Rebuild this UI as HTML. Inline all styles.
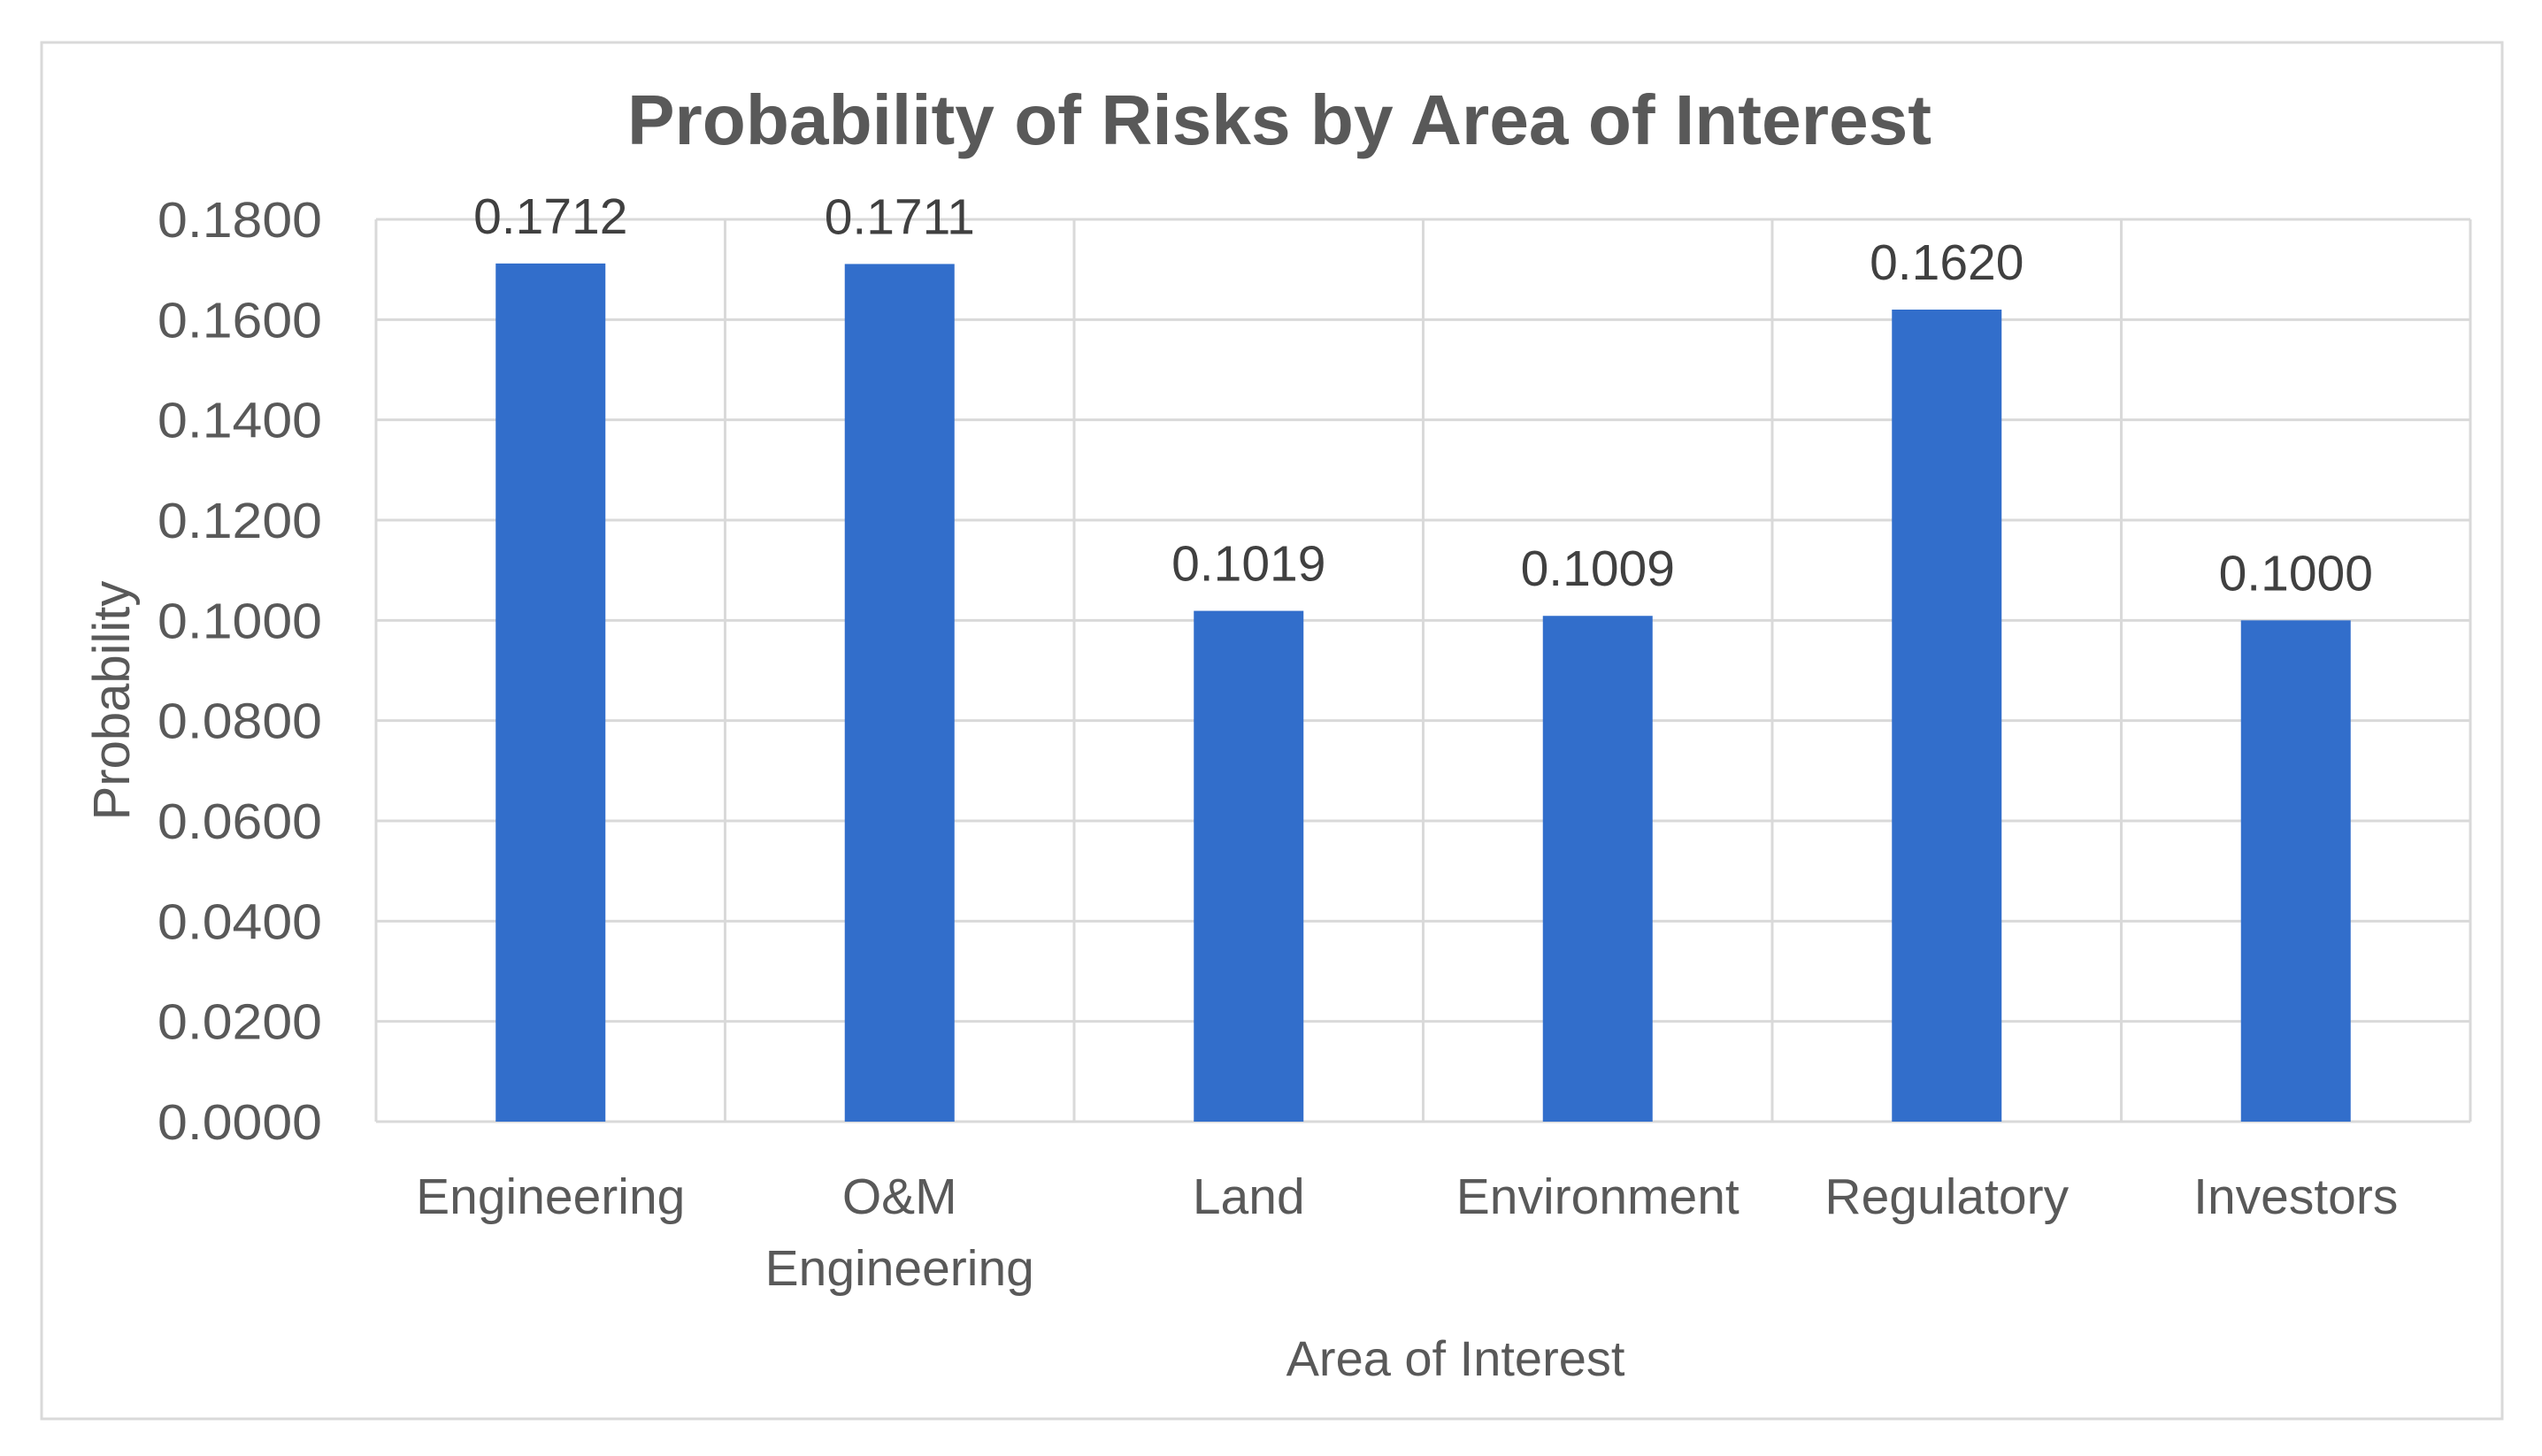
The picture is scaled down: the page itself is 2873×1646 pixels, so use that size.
<!DOCTYPE html>
<html><head><meta charset="utf-8"><style>
html,body{margin:0;padding:0;background:#fff;}
svg{display:block;font-family:"Liberation Sans",sans-serif;}
</style></head><body>
<svg id="chart" width="2873" height="1646" viewBox="0 0 2873 1646">
<rect x="47" y="48" width="2781" height="1556" fill="#fff" stroke="#d9d9d9" stroke-width="3"/>
<text x="1446" y="163" text-anchor="middle" font-size="80" font-weight="bold" fill="#595959" textLength="1474" lengthAdjust="spacingAndGlyphs">Probability of Risks by Area of Interest</text>
<g id="grid"></g>
<g id="bars"></g>
<g id="labels"></g>
<text transform="translate(146,792) rotate(-90)" text-anchor="middle" font-size="58" fill="#595959">Probability</text>
<text x="1645" y="1555" text-anchor="middle" font-size="56" fill="#595959">Area of Interest</text>
</svg>
<script>
const categories = [["Engineering"],["O&M","Engineering"],["Land"],["Environment"],["Regulatory"],["Investors"]];
const values = [0.1712,0.1711,0.1019,0.1009,0.1620,0.1000];
const valueLabels = ["0.1712","0.1711","0.1019","0.1009","0.1620","0.1000"];
const yTicks = [0,0.02,0.04,0.06,0.08,0.10,0.12,0.14,0.16,0.18];
const yTickLabels = ["0.0000","0.0200","0.0400","0.0600","0.0800","0.1000","0.1200","0.1400","0.1600","0.1800"];

const NS="http://www.w3.org/2000/svg";
const L=425,R=2792,T=248,B=1268,YMAX=0.18;
const y=v=>B-(v/YMAX)*(B-T);
const band=(R-L)/categories.length;
const x=i=>L+band*(i+0.5);
const bw=124;
function mk(tag,attrs,parent,text){const e=document.createElementNS(NS,tag);for(const k in attrs)e.setAttribute(k,attrs[k]);if(text!==undefined)e.textContent=text;parent.appendChild(e);return e;}
const grid=document.getElementById('grid'),bars=document.getElementById('bars'),labels=document.getElementById('labels');
yTicks.forEach((t,i)=>{
  const g=mk('line',{x1:L,x2:R,y1:y(t),y2:y(t),stroke:'#d9d9d9','stroke-width':3},grid);
  
  
  const tl=mk('text',{x:364,y:y(t)+20,'text-anchor':'end','font-size':57,fill:'#595959',textLength:186,lengthAdjust:'spacingAndGlyphs'},labels,yTickLabels[i]);
  
  
});
for(let i=0;i<=categories.length;i++){
  const v=mk('line',{x1:L+band*i,x2:L+band*i,y1:T,y2:B,stroke:'#d9d9d9','stroke-width':3},grid);
  
  
}
categories.forEach((c,i)=>{
  const r=mk('rect',{x:x(i)-bw/2,y:y(values[i]),width:bw,height:B-y(values[i]),fill:'#326ECB'},bars);
  
  
  const dl=mk('text',{x:x(i),y:y(values[i])-34,'text-anchor':'middle','font-size':57,fill:'#404040'},labels,valueLabels[i]);
  
  
  c.forEach((line,j)=>{
    const cl=mk('text',{x:x(i),y:1372+j*81,'text-anchor':'middle','font-size':57,fill:'#595959'},labels,line);
    
    
  });
});
</script>
</body></html>
